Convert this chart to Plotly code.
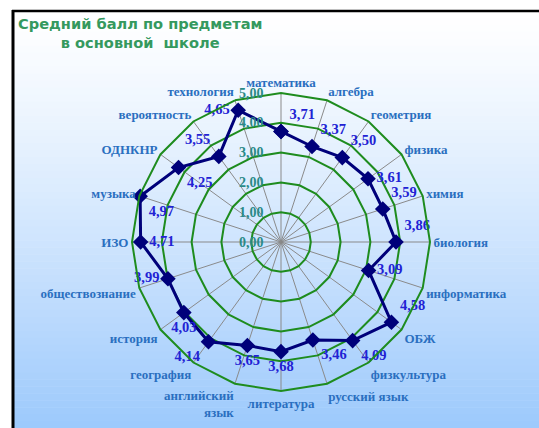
import plotly.graph_objects as go

categories = ["математика", "алгебра", "геометрия", "физика", "химия", "биология",
              "информатика", "ОБЖ", "физкультура", "русский язык", "литература",
              "английский<br>язык", "география", "история", "обществознание", "ИЗО",
              "музыка", "ОДНКНР", "вероятность", "технология"]
scores = [3.71, 3.37, 3.50, 3.61, 3.59, 3.86, 3.09, 4.58, 4.09, 3.46, 3.68,
          3.65, 4.14, 4.03, 3.99, 4.71, 4.97, 4.25, 3.55, 4.65]
label_pos = ["top right", "top right", "top right", "middle right", "top right",
             "top right", "middle right", "top right", "bottom right", "bottom right",
             "bottom center", "bottom center", "bottom left", "bottom center", "middle left",
             "middle right", "bottom right", "bottom right", "top left", "middle left"]
radial_ticks = [0, 1, 2, 3, 4, 5]

serif = "Liberation Serif"
W, H = 539, 428
cx, cy, R = 281, 242, 149

fig = go.Figure()

r_closed = scores + scores[:1]
th_closed = categories + categories[:1]
texts = [f"{v:.2f}".replace(".", ",") for v in scores] + [""]
fig.add_trace(go.Scatterpolar(
    r=r_closed, theta=th_closed, mode="lines+markers+text",
    text=texts, textposition=label_pos + ["middle right"],
    textfont=dict(family=serif, size=14.5, color="#2222d4", weight="bold"),
    line=dict(color="#00007a", width=3),
    marker=dict(symbol="diamond", size=12, color="#00007a"),
    cliponaxis=False, showlegend=False,
))

# gradient background via strips
shapes = []
top_px, left_px = 11, 13
n = 60
c0 = (255, 255, 255)
c1 = (156, 201, 252)
for i in range(n):
    y0 = top_px + (H - top_px) * i / n
    y1 = top_px + (H - top_px) * (i + 1) / n + 0.5
    t = ((i + 0.5) / n) ** 1.2
    col = tuple(int(round(c0[k] + (c1[k] - c0[k]) * t)) for k in range(3))
    shapes.append(dict(type="rect", xref="paper", yref="paper", layer="below",
                       x0=left_px / W, x1=1, y0=1 - y1 / H, y1=1 - y0 / H,
                       line=dict(width=0), fillcolor="rgb(%d,%d,%d)" % col))
# border
shapes.append(dict(type="line", xref="paper", yref="paper", x0=12 / W, x1=1,
                   y0=1 - 11 / H, y1=1 - 11 / H, line=dict(color="black", width=2.5)))
shapes.append(dict(type="line", xref="paper", yref="paper", x0=13 / W, x1=13 / W,
                   y0=0, y1=1 - 10 / H, line=dict(color="black", width=3)))

fig.update_layout(
    width=W, height=H, margin=dict(l=0, r=0, t=0, b=0),
    paper_bgcolor="white", separators=", ",
    shapes=shapes,
    polar=dict(
        domain=dict(x=[(cx - R) / W, (cx + R) / W], y=[(H - cy - R) / H, (H - cy + R) / H]),
        bgcolor="rgba(0,0,0,0)",
        gridshape="linear",
        radialaxis=dict(range=[0, 5], tickvals=radial_ticks, tickformat=".2f",
                        angle=90, side="counterclockwise", tickangle=90,
                        showline=False, ticks="outside", ticklen=12,
                        tickcolor="rgba(0,0,0,0)",
                        gridcolor="#1e8c1e", gridwidth=2,
                        tickfont=dict(family=serif, size=14, color="#2a8a88", weight="bold")),
        angularaxis=dict(direction="clockwise", rotation=90,
                         showline=True, linecolor="#1e8c1e", linewidth=2,
                         gridcolor="#8a8a8a", gridwidth=1, ticks="",
                         tickfont=dict(family=serif, size=13, color="#2a6fc0", weight="bold")),
    ),
    annotations=[dict(text="Средний балл по предметам<br>в основной  школе",
                      xref="paper", yref="paper", x=140 / W, y=1 - 13 / H,
                      xanchor="center", yanchor="top", align="center", showarrow=False,
                      font=dict(family="DejaVu Sans", size=14.6, color="#35995e", weight="bold"))],
)

fig.write_html("out.html", config={"displayModeBar": False},
               post_script="document.body.style.margin='0';document.body.style.overflow='hidden';")
